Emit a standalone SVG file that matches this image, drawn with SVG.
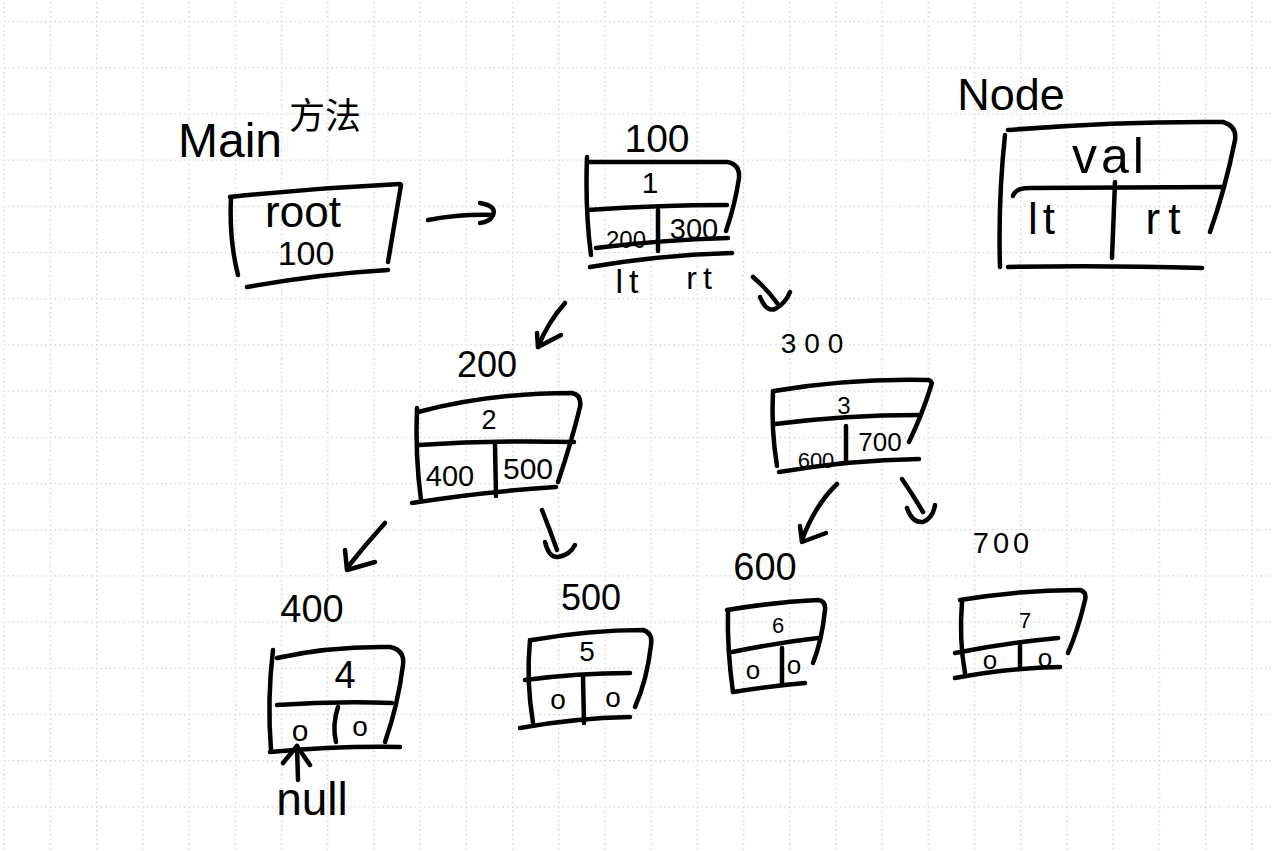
<svg xmlns="http://www.w3.org/2000/svg" width="1272" height="851" viewBox="0 0 1272 851">
<style>
.s{fill:none;stroke:#000;stroke-width:4.5;stroke-linecap:round;stroke-linejoin:round}
.t{font-family:"Liberation Sans","Noto Sans CJK SC",sans-serif;fill:#000;text-anchor:middle}
.g{stroke:#c4c4c4;stroke-width:1.3;stroke-dasharray:1.3 3.32}
</style>
<defs>
<pattern id="grid" patternUnits="userSpaceOnUse" x="3.65" y="20.95" width="46.2" height="46.2">
<line class="g" x1="0" y1="0.65" x2="46.2" y2="0.65"/>
<line class="g" x1="0.65" y1="0" x2="0.65" y2="46.2"/>
</pattern>
</defs>
<rect width="1272" height="851" fill="#fff"/>
<rect width="1272" height="851" fill="url(#grid)"/>

<g id="title">
<text class="t" x="230" y="157" font-size="48">Main</text>
<text class="t" x="325" y="129" font-size="36">方法</text>
</g>

<g id="root">
<path class="s" d="M230,197 Q315,188 400,184"/>
<path class="s" d="M401,185 L388,262"/>
<path class="s" d="M231,197 Q229,240 238,275"/>
<path class="s" d="M247,287 Q320,274 388,270"/>
<text class="t" x="303" y="227" font-size="44">root</text>
<text class="t" x="306" y="265" font-size="34">100</text>
</g>

<g id="node1">
<text class="t" x="657" y="152" font-size="39">100</text>
<path class="s" d="M587,157 Q585,210 591,255"/>
<path class="s" d="M587,162 L727,162 Q740,164 739,178 Q735,205 726,231"/>
<path class="s" d="M588,210 Q660,205 727,205"/>
<path class="s" d="M658,210 L658,251"/>
<path class="s" d="M596,248 Q660,240 728,238"/>
<path class="s" d="M590,267 Q660,255 732,253"/>
<text class="t" x="650" y="193" font-size="30">1</text>
<text class="t" x="626" y="248" font-size="24">200</text>
<text class="t" x="694" y="239" font-size="29">300</text>
<text class="t" x="630" y="293" font-size="34" letter-spacing="6">lt</text>
<text class="t" x="702" y="289" font-size="32" letter-spacing="6">rt</text>
</g>

<g id="node2">
<text class="t" x="487" y="377" font-size="36">200</text>
<path class="s" d="M417,408 Q415,455 421,500"/>
<path class="s" d="M418,412 Q490,393 572,393 Q582,395 580,407 Q572,440 558,482"/>
<path class="s" d="M419,445 Q495,440 574,442"/>
<path class="s" d="M495,445 L496,496"/>
<path class="s" d="M412,503 Q480,492 556,487"/>
<text class="t" x="489" y="429" font-size="27">2</text>
<text class="t" x="450" y="486" font-size="29">400</text>
<text class="t" x="528" y="479" font-size="30">500</text>
</g>

<g id="node3">
<text class="t" x="816" y="353" font-size="28" letter-spacing="8">300</text>
<path class="s" d="M773,391 Q771,430 777,466"/>
<path class="s" d="M774,391 Q850,378 929,380 Q933,382 931,386 Q922,415 909,442"/>
<path class="s" d="M775,424 Q845,415 919,415"/>
<path class="s" d="M846,426 L846,463"/>
<path class="s" d="M779,472 Q850,460 919,459"/>
<text class="t" x="844" y="414" font-size="24">3</text>
<text class="t" x="816" y="468" font-size="22">600</text>
<text class="t" x="880" y="451" font-size="26">700</text>
</g>

<g id="node4">
<text class="t" x="312" y="622" font-size="38">400</text>
<path class="s" d="M273,650 Q267,700 271,750"/>
<path class="s" d="M277,658 Q330,646 390,647 Q405,650 403,665 Q398,705 385,742"/>
<path class="s" d="M277,705 Q335,701 392,703"/>
<path class="s" d="M338,707 Q332,725 336,742"/>
<path class="s" d="M270,752 Q335,746 400,747"/>
<text class="t" x="345" y="688" font-size="38">4</text>
<text class="t" x="300" y="741" font-size="30">o</text>
<text class="t" x="360" y="736" font-size="28">o</text>
<text class="t" x="312" y="815" font-size="46">null</text>
</g>

<g id="node5">
<text class="t" x="591" y="610" font-size="36">500</text>
<path class="s" d="M530,640 Q526,680 533,723"/>
<path class="s" d="M532,640 Q590,630 643,630 Q653,633 651,645 Q647,680 635,707"/>
<path class="s" d="M525,680 Q578,673 630,673"/>
<path class="s" d="M583,677 L584,723"/>
<path class="s" d="M520,728 Q575,718 630,717"/>
<text class="t" x="587" y="661" font-size="28">5</text>
<text class="t" x="558" y="709" font-size="28">o</text>
<text class="t" x="613" y="707" font-size="28">o</text>
</g>

<g id="node6">
<text class="t" x="765" y="580" font-size="38">600</text>
<path class="s" d="M728,610 Q727,650 733,692"/>
<path class="s" d="M727,610 Q775,602 818,600 Q826,601 825,610 Q822,640 813,663"/>
<path class="s" d="M732,652 Q775,643 818,638"/>
<path class="s" d="M782,648 L782,685"/>
<path class="s" d="M733,692 Q770,686 805,683"/>
<text class="t" x="778" y="633" font-size="22">6</text>
<text class="t" x="753" y="679" font-size="26">o</text>
<text class="t" x="794" y="674" font-size="26">o</text>
</g>

<g id="node7">
<text class="t" x="1003" y="553" font-size="29" letter-spacing="4">700</text>
<path class="s" d="M962,602 Q959,640 965,673"/>
<path class="s" d="M960,600 Q1020,590 1080,590 Q1087,592 1085,600 Q1078,630 1068,653"/>
<path class="s" d="M955,653 Q1005,643 1058,638"/>
<path class="s" d="M1020,645 L1020,668"/>
<path class="s" d="M955,678 Q1010,668 1060,667"/>
<text class="t" x="1025" y="628" font-size="22">7</text>
<text class="t" x="990" y="669" font-size="26">o</text>
<text class="t" x="1045" y="667" font-size="26">o</text>
</g>

<g id="legend">
<text class="t" x="1011" y="110" font-size="45">Node</text>
<path class="s" d="M1005,135 Q998,200 1000,267"/>
<path class="s" d="M1008,130 Q1120,121 1223,122 Q1237,126 1235,140 Q1225,190 1210,232"/>
<path class="s" d="M1013,196 Q1015,188 1030,188 L1223,187"/>
<path class="s" d="M1115,182 L1112,258"/>
<path class="s" d="M1008,267 Q1100,265 1202,268"/>
<text class="t" x="1110" y="173" font-size="50" letter-spacing="4">val</text>
<text class="t" x="1044" y="234" font-size="44" letter-spacing="5">lt</text>
<text class="t" x="1167" y="234" font-size="44" letter-spacing="8">rt</text>
</g>

<g id="connectors">
<path class="s" d="M428,220 Q460,214 493,215"/>
<path class="s" d="M480,203 Q497,206 493,215 Q490,222 480,223"/>
<path class="s" d="M565,303 Q548,322 538,347"/>
<path class="s" d="M537,333 L538,347 L561,335"/>
<path class="s" d="M753,277 Q768,290 777,303"/>
<path class="s" d="M760,297 Q766,312 775,309 Q786,303 790,292"/>
<path class="s" d="M385,523 Q365,545 347,568"/>
<path class="s" d="M345,550 L347,570 L375,562"/>
<path class="s" d="M542,510 Q550,530 557,550"/>
<path class="s" d="M545,542 Q549,558 558,557 Q570,555 575,545"/>
<path class="s" d="M837,484 Q815,505 802,540"/>
<path class="s" d="M800,526 L802,542 L826,533"/>
<path class="s" d="M902,479 Q913,495 923,512"/>
<path class="s" d="M907,508 Q912,523 923,522 Q933,518 935,505"/>
<path class="s" d="M298,780 L297,746"/>
<path class="s" d="M283,763 L297,746 L310,765"/>
</g>
</svg>
